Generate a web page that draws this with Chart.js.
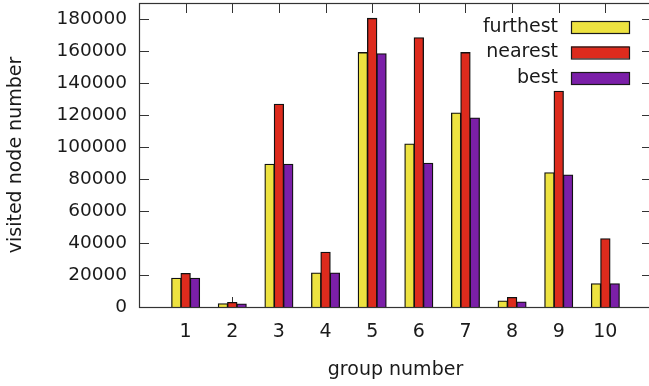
<!DOCTYPE html>
<html>
<head>
<meta charset="utf-8">
<script src="https://cdn.jsdelivr.net/npm/chart.js@4/dist/chart.umd.min.js"></script>
<style>
  html, body { margin: 0; padding: 0; background: #fff; overflow: hidden; }
  #wrap { width: 649px; height: 386px; overflow: hidden; }
</style>
</head>
<body>
<div id="wrap"><canvas id="myChart" width="656" height="386"></canvas></div>
<script>
'use strict'

const groups = ['1', '2', '3', '4', '5', '6', '7', '8', '9', '10'];
const furthest = [18000, 2000, 89200, 21300, 159000, 101900, 121300, 3800, 83900, 14600];
const nearest = [21000, 2800, 126700, 34200, 180400, 168300, 159000, 6000, 134800, 42700];
const best = [18000, 1900, 89200, 21300, 158300, 89800, 118100, 3100, 82500, 14600];
const yTicks = [0, 20000, 40000, 60000, 80000, 100000, 120000, 140000, 160000, 180000];

const textColor = '#1a1a1a';
const fontFamily = '"DejaVu Sans", Verdana, sans-serif';

// pad one empty slot on each side, gnuplot leaves a full group of space there
const pad = arr => [null, ...arr, null];

// no extra room for half labels at the ends
const noEdgePadding = s => {
    s.paddingTop = 0; s.paddingBottom = 0;
    s.paddingLeft = 0; s.paddingRight = 0;
};

// frame, inward ticks and the in-plot legend
const gnuplotLook = {
    id: 'gnuplotLook',
    beforeDatasetsDraw(chart) {
        const {ctx, chartArea: a, scales: {x, y}} = chart;
        ctx.save();
        ctx.strokeStyle = '#333';
        ctx.lineWidth = 1;
        ctx.beginPath();
        y.ticks.forEach(t => {
            const py = Math.round(y.getPixelForValue(t.value)) + 0.5;
            ctx.moveTo(a.left, py); ctx.lineTo(a.left + 10, py);
            ctx.moveTo(a.right, py); ctx.lineTo(a.right - 10, py);
        });
        groups.forEach((g, i) => {
            const px = Math.round(x.getPixelForValue(i + 1)) + 0.5;
            ctx.moveTo(px, a.top); ctx.lineTo(px, a.top + 10);
            ctx.moveTo(px, a.bottom); ctx.lineTo(px, a.bottom - 10);
        });
        ctx.stroke();
        ctx.restore();
    },
    afterDatasetsDraw(chart) {
        const {ctx, chartArea: a} = chart;
        ctx.save();
        ctx.strokeStyle = '#333';
        ctx.lineWidth = 1.2;
        ctx.strokeRect(a.left + 0.5, a.top + 0.5, a.right - a.left - 1, a.bottom - a.top);

        ctx.font = '19px ' + fontFamily;
        ctx.textAlign = 'right';
        ctx.textBaseline = 'middle';
        chart.data.datasets.forEach((ds, i) => {
            const yc = 27 + i * 25.5;
            ctx.fillStyle = textColor;
            ctx.fillText(ds.label, 558, yc);
            ctx.fillStyle = ds.backgroundColor;
            ctx.fillRect(571, yc - 6, 58, 12);
            ctx.lineWidth = 1.2;
            ctx.strokeStyle = '#1a1a1a';
            ctx.strokeRect(571.5, yc - 5.5, 58, 12);
        });
        ctx.restore();
    }
};

const ctx = document.getElementById('myChart');

new Chart(ctx, {
    type: 'bar',
    data: {
        labels: ['', ...groups, ''],
        datasets: [
            {label: 'furthest', data: pad(furthest), backgroundColor: '#ede240'},
            {label: 'nearest', data: pad(nearest), backgroundColor: '#dd2b1d'},
            {label: 'best', data: pad(best), backgroundColor: '#7b1fa8'}
        ].map(ds => Object.assign(ds, {borderColor: '#111', borderWidth: 1.3, inflateAmount: 0.5}))
    },
    options: {
        responsive: false,
        animation: false,
        layout: {padding: {top: 3, right: 4, left: 0, bottom: 0}},
        datasets: {bar: {categoryPercentage: 0.6, barPercentage: 1}},
        plugins: {legend: {display: false}, tooltip: {enabled: false}},
        scales: {
            x: {
                offset: false,
                grid: {display: false, drawTicks: false},
                border: {display: false},
                ticks: {color: textColor, font: {family: fontFamily, size: 19}, padding: 14, maxRotation: 0, autoSkip: false},
                title: {display: true, text: 'group number', color: textColor,
                        font: {family: fontFamily, size: 19}, padding: {top: 0, bottom: 5}},
                afterFit: s => { s.height = 79; noEdgePadding(s); }
            },
            y: {
                min: 0,
                max: 190000,
                grid: {display: false, drawTicks: false},
                border: {display: false},
                ticks: {color: textColor, font: {family: fontFamily, size: 18.5}, padding: 12,
                        callback: v => String(v)},
                afterBuildTicks: s => { s.ticks = yTicks.map(v => ({value: v})); },
                title: {display: true, text: 'visited node number', color: textColor,
                        font: {family: fontFamily, size: 19}, padding: {top: 5, bottom: 0}},
                afterFit: s => { s.width = 139; noEdgePadding(s); }
            }
        }
    },
    plugins: [gnuplotLook]
});
</script>
</body>
</html>
